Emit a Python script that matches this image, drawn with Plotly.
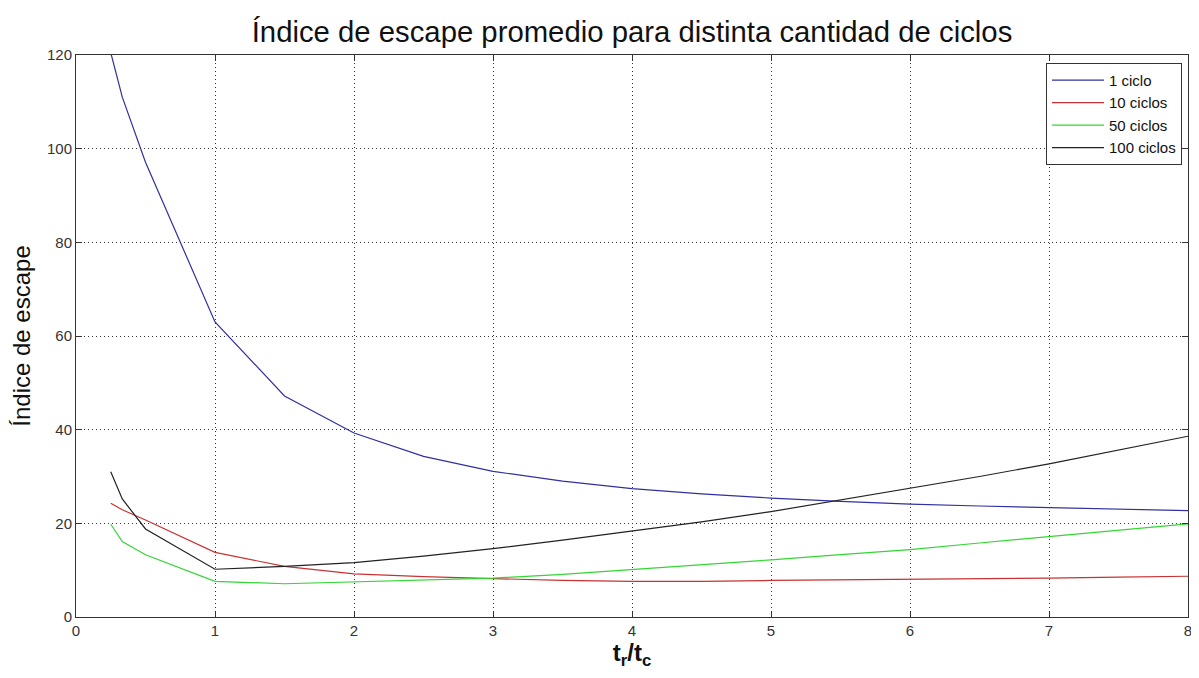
import plotly.graph_objects as go

x_vals = [0.25, 0.333, 0.5, 1, 1.5, 2, 2.5, 3, 3.5, 4, 4.5, 5, 5.5, 6, 6.5, 7, 7.5, 8]
ciclo_1 = [120.5, 111.0, 97.1, 63.0, 47.2, 39.3, 34.3, 31.1, 29.0, 27.4, 26.3, 25.4, 24.7, 24.1, 23.7, 23.4, 23.0, 22.7]
ciclos_10 = [24.3, 22.9, 20.7, 13.8, 10.8, 9.2, 8.6, 8.2, 7.8, 7.6, 7.6, 7.8, 7.9, 8.0, 8.1, 8.3, 8.5, 8.7]
ciclos_50 = [19.8, 16.1, 13.3, 7.6, 7.1, 7.5, 7.8, 8.3, 9.1, 10.1, 11.1, 12.2, 13.3, 14.4, 15.8, 17.2, 18.5, 19.9]
ciclos_100 = [31.0, 25.2, 18.8, 10.2, 10.8, 11.6, 13.0, 14.6, 16.4, 18.3, 20.3, 22.5, 25.0, 27.5, 30.0, 32.7, 35.6, 38.6]

series_names = ["1 ciclo", "10 ciclos", "50 ciclos", "100 ciclos"]
series_colors = ["#3030a0", "#c83232", "#33d633", "#222222"]
series_data = [ciclo_1, ciclos_10, ciclos_50, ciclos_100]

x_ticks = [0, 1, 2, 3, 4, 5, 6, 7, 8]
y_ticks = [0, 20, 40, 60, 80, 100, 120]

FONT = "Liberation Sans, Arial, sans-serif"

fig = go.Figure()
for name, color, ys in zip(series_names, series_colors, series_data):
    fig.add_trace(go.Scatter(x=x_vals, y=ys, mode="lines", name=name,
                             line=dict(color=color, width=1.2)))

axis_common = dict(
    showline=True, linecolor="#333333", linewidth=1, mirror="ticks",
    ticks="inside", ticklen=6, tickcolor="#333333",
    showgrid=True, gridcolor="#333333", griddash="1px,3px", gridwidth=1,
    zeroline=False, automargin=False,
    tickfont=dict(family=FONT, size=15, color="#333333"),
)

fig.update_layout(
    width=1191, height=670,
    paper_bgcolor="white", plot_bgcolor="white",
    margin=dict(l=68, r=11, t=47, b=61),
    title=dict(text="Índice de escape promedio para distinta cantidad de ciclos",
               xref="paper", x=0.5, xanchor="center", y=0.964, yanchor="middle",
               automargin=False,
               font=dict(family=FONT, size=29.3, color="#111111")),
    xaxis=dict(range=[0, 8], tickvals=x_ticks,
               title=dict(text="<b>t<sub>r</sub>/t<sub>c</sub></b>", standoff=4,
                          font=dict(family=FONT, size=24, color="#111111")),
               **axis_common),
    yaxis=dict(range=[0, 120], tickvals=y_ticks,
               title=dict(text="Índice de escape", standoff=12,
                          font=dict(family=FONT, size=24, color="#111111")),
               **axis_common),
    legend=dict(x=0.9946, xanchor="right", y=0.986, yanchor="top",
                bgcolor="white", bordercolor="#333333", borderwidth=1,
                font=dict(family=FONT, size=15, color="#111111"),
                tracegroupgap=0, itemwidth=52),
    showlegend=True,
)

fig.write_html("out.html")
